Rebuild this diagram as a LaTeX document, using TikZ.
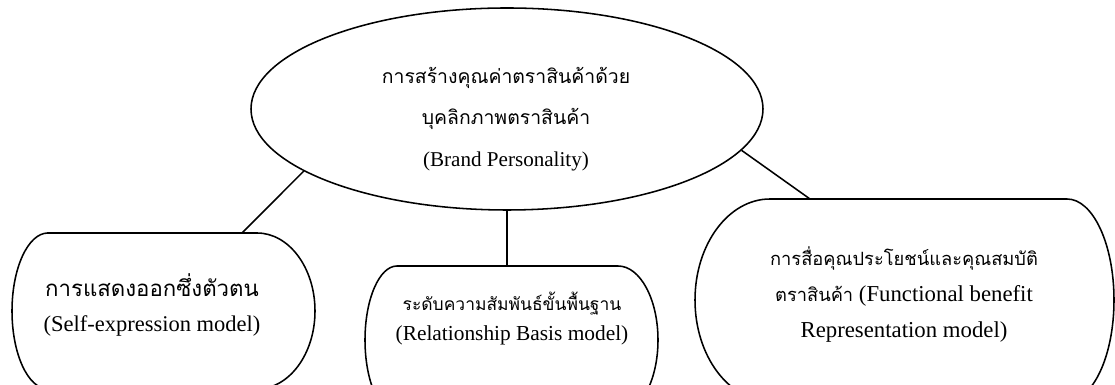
\documentclass[tikz,border=0pt]{standalone}
\usepackage{fontspec}
\setmainfont{Liberation Serif}
\newfontfamily\thaifont[Script=Thai]{Loma}
\usetikzlibrary{shapes.geometric}

\tikzset{
  outline/.style={draw, line width=1.1pt},
  link/.style={draw, line width=1.1pt},
  txt/.style={align=center, inner sep=0pt},
}

\begin{document}
\begin{tikzpicture}
\useasboundingbox (0,0) rectangle (27.875,9.625);
\clip (0,0) rectangle (27.875,9.625);

% top ellipse
\node[ellipse, outline, minimum width=12.8cm, minimum height=5.05cm] (brand) at (12.675,6.9) {};
\node[txt, font=\fontsize{15}{29.5}\selectfont] (brandtxt) at (12.65,6.65)
  {{\thaifont\fontsize{13.8}{29.5}\selectfont การสร้างคุณค่าตราสินค้าด้วย}\\
   {\thaifont\fontsize{13.8}{29.5}\selectfont บุคลิกภาพตราสินค้า}\\(Brand Personality)};

% three boxes, cut by the lower edge
\draw[outline] (1.2,3.8) -- (6.425,3.8) arc[start angle=90, end angle=-90, x radius=1.45, y radius=1.95]
  -- (1.2,-0.1) arc[start angle=270, end angle=90, x radius=0.9, y radius=1.95] -- cycle;
\draw[outline] (9.925,2.975) -- (15.45,2.975) arc[start angle=90, end angle=-90, x radius=1.0, y radius=1.85]
  -- (9.925,-0.725) arc[start angle=270, end angle=90, x radius=0.8, y radius=1.85] -- cycle;
\draw[outline] (19.25,4.65) -- (26.675,4.65) arc[start angle=90, end angle=-90, x radius=1.175, y radius=2.525]
  -- (19.25,-0.4) arc[start angle=270, end angle=90, x radius=1.875, y radius=2.525] -- cycle;

\coordinate (selftop) at (6.05,3.8);
\coordinate (reltop) at (12.675,2.975);
\coordinate (functop) at (20.25,4.65);

\node[txt, font=\fontsize{16}{24.9}\selectfont] (selfexp) at (3.8,2.0)
  {{\thaifont\fontsize{15.8}{24.9}\selectfont การแสดงออกซึ่งตัวตน}\\(Self-expression model)};
\node[txt, font=\fontsize{15.2}{21.3}\selectfont] (relbasis) at (12.8,1.65)
  {{\thaifont\fontsize{12.4}{21.3}\selectfont ระดับความสัมพันธ์ขั้นพื้นฐาน}\\(Relationship Basis model)};
\node[txt, font=\fontsize{16.2}{25.6}\selectfont] (funcben) at (22.6,2.27)
  {{\thaifont\fontsize{13}{25.6}\selectfont การสื่อคุณประโยชน์และคุณสมบัติ}\\
   {\thaifont\fontsize{13}{25.6}\selectfont ตราสินค้า} (Functional benefit\\Representation model)};

% connectors
\draw[link] (brand.197.7) -- (selftop);
\draw[link] (brand.south) -- (reltop);
\draw[link] (brand.350.2) -- (functop);
\end{tikzpicture}
\end{document}
